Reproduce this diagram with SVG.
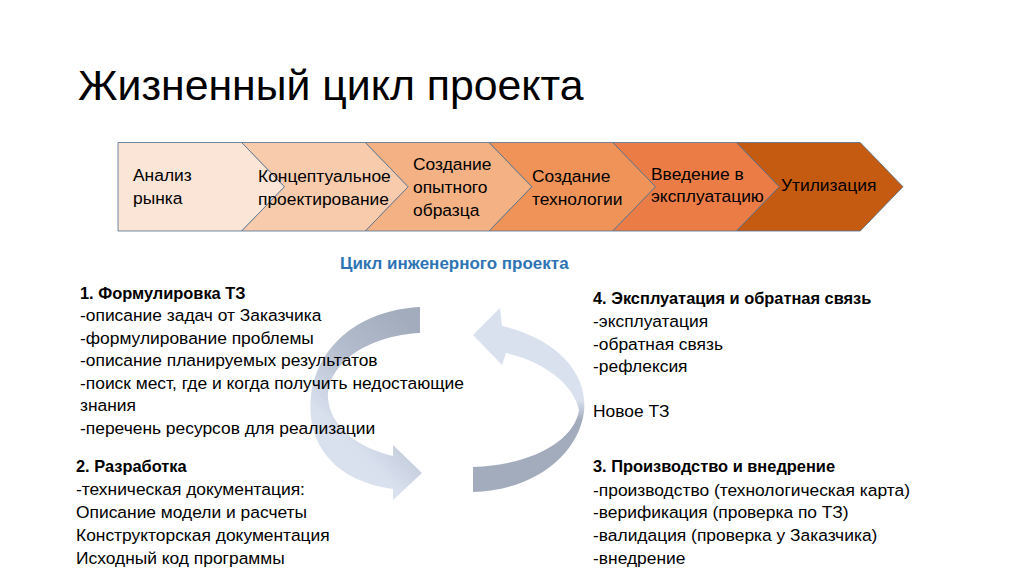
<svg xmlns="http://www.w3.org/2000/svg" width="1024" height="574" viewBox="0 0 1024 574">
<style>
.t{font-family:"Liberation Sans",Arial,sans-serif;fill:#000}
.title{font-size:42.8px}
.cv{font-size:17.4px}
.b{font-size:17.4px}
.bb{font-size:16.4px;font-weight:bold}
.sub{font-family:"Liberation Sans",Arial,sans-serif;font-size:17px;font-weight:bold;fill:#2E74B5}
.chev{stroke:#4F6F8F;stroke-width:0.8}
</style>
<defs>
<linearGradient id="gL" gradientUnits="userSpaceOnUse" x1="405" y1="318" x2="315" y2="410">
<stop offset="0" stop-color="#A3ACBD"/>
<stop offset="0.5" stop-color="#B3BCCC"/>
<stop offset="1" stop-color="#D9E1EF"/>
</linearGradient>
<linearGradient id="gR" gradientUnits="userSpaceOnUse" x1="0" y1="420" x2="0" y2="400">
<stop offset="0" stop-color="#A3ACBD"/>
<stop offset="1" stop-color="#D9E1EF"/>
</linearGradient>
</defs>
<rect width="1024" height="574" fill="#FFFFFF"/>
<text class="t title" x="78" y="100">Жизненный цикл проекта</text>

<g id="stage1"><path class="chev" d="M118 142.5 L241.7 142.5 L284.5 186.75 L241.7 231 L118 231 Z" fill="#FBE5D6"/>
<text class="t cv" x="133" y="181">Анализ</text><text class="t cv" x="133" y="204">рынка</text></g>
<g id="stage2"><path class="chev" d="M241.7 142.5 L365.4 142.5 L408.2 186.75 L365.4 231 L241.7 231 L284.5 186.75 Z" fill="#F8CBAD"/>
<text class="t cv" x="258" y="182">Концептуальное</text><text class="t cv" x="258" y="205">проектирование</text></g>
<g id="stage3"><path class="chev" d="M365.4 142.5 L489.1 142.5 L531.9 186.75 L489.1 231 L365.4 231 L408.2 186.75 Z" fill="#F4B183"/>
<text class="t cv" x="413" y="170">Создание</text><text class="t cv" x="413" y="193">опытного</text><text class="t cv" x="413" y="216">образца</text></g>
<g id="stage4"><path class="chev" d="M489.1 142.5 L612.8 142.5 L655.6 186.75 L612.8 231 L489.1 231 L531.9 186.75 Z" fill="#EF9359"/>
<text class="t cv" x="532" y="182">Создание</text><text class="t cv" x="532" y="205">технологии</text></g>
<g id="stage5"><path class="chev" d="M612.8 142.5 L736.5 142.5 L779.3 186.75 L736.5 231 L612.8 231 L655.6 186.75 Z" fill="#EC7C45"/>
<text class="t cv" x="651" y="180">Введение в</text><text class="t cv" x="651" y="202">эксплуатацию</text></g>
<g id="stage6"><path class="chev" d="M736.5 142.5 L860.2 142.5 L903 186.75 L860.2 231 L736.5 231 L779.3 186.75 Z" fill="#C55A11"/>
<text class="t cv" x="781" y="191">Утилизация</text></g>

<g id="connectors">
<path id="arrowLeft" d="M420 307 C360 310 318 345 311 395 C306 440 330 480 393 489 L393 500 L422 473 L393 445 L393 456 C355 447 330 425 328 398 C327 365 365 336 420 333 Z" fill="url(#gL)"/>
<path id="arrowRight" d="M473 492 C535 490 578 455 584 412 C588 375 560 340 502 326 L500 308 L473 335 L502 365 L506 353 C545 362 574 385 579 410 C574 442 530 465 473 467 Z" fill="url(#gR)"/>
</g>

<g id="subtitle"><text class="sub" x="340" y="269">Цикл инженерного проекта</text></g>

<g id="phase1">
<text class="t bb" x="80" y="299">1. Формулировка ТЗ</text>
<text class="t b" x="80" y="321">-описание задач от Заказчика</text>
<text class="t b" x="80" y="344">-формулирование проблемы</text>
<text class="t b" x="80" y="366">-описание планируемых результатов</text>
<text class="t b" x="80" y="389">-поиск мест, где и когда получить недостающие</text>
<text class="t b" x="80" y="411">знания</text>
<text class="t b" x="80" y="434">-перечень ресурсов для реализации</text>
</g>
<g id="phase2">
<text class="t bb" x="76" y="472">2. Разработка</text>
<text class="t b" x="76" y="495">-техническая документация:</text>
<text class="t b" x="76" y="518">Описание модели и расчеты</text>
<text class="t b" x="76" y="541">Конструкторская документация</text>
<text class="t b" x="76" y="564">Исходный код программы</text>
</g>
<g id="phase4">
<text class="t bb" x="593" y="304">4. Эксплуатация и обратная связь</text>
<text class="t b" x="593" y="327">-эксплуатация</text>
<text class="t b" x="593" y="350">-обратная связь</text>
<text class="t b" x="593" y="372">-рефлексия</text>
<text class="t b" x="593" y="417">Новое ТЗ</text>
</g>
<g id="phase3">
<text class="t bb" x="593" y="472">3. Производство и внедрение</text>
<text class="t b" x="593" y="496">-производство (технологическая карта)</text>
<text class="t b" x="593" y="518">-верификация (проверка по ТЗ)</text>
<text class="t b" x="593" y="541">-валидация (проверка у Заказчика)</text>
<text class="t b" x="593" y="564">-внедрение</text>
</g>
</svg>
